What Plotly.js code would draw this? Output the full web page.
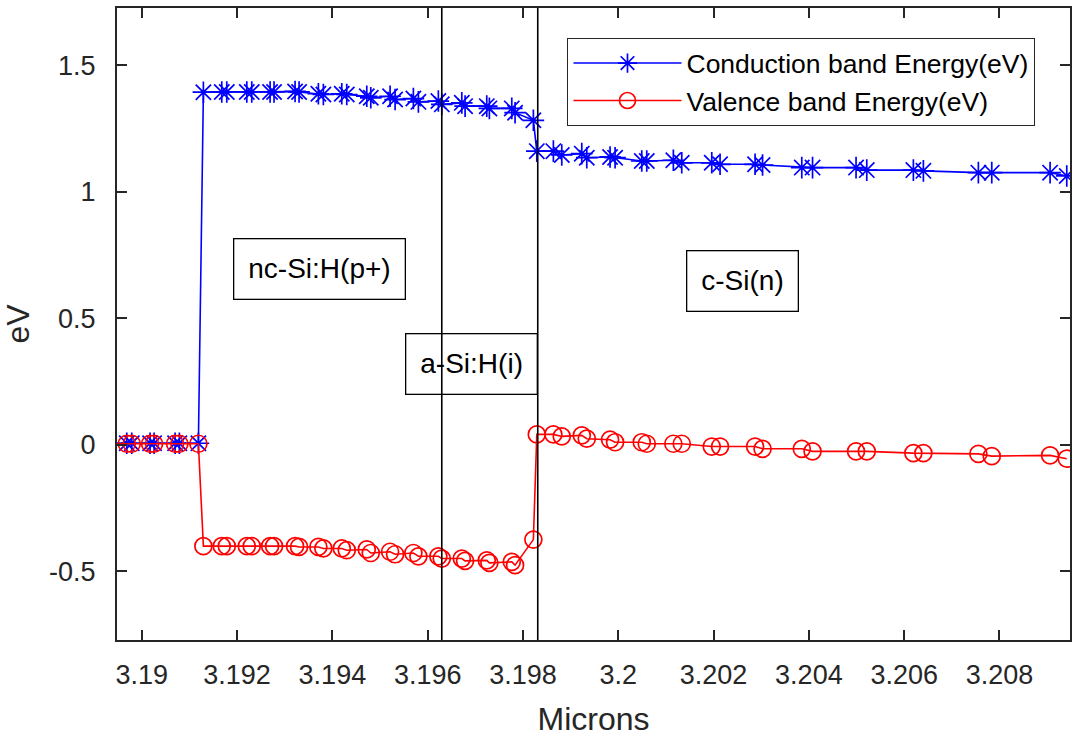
<!DOCTYPE html>
<html>
<head>
<meta charset="utf-8">
<script src="https://cdn.plot.ly/plotly-3.0.1.min.js"></script>
<style>
  html, body { margin: 0; padding: 0; background: #ffffff; }
  #plot { width: 1081px; height: 742px; }
</style>
</head>
<body>
<div id="plot"></div>
<script>
// Band diagram of an nc-Si:H(p+) / a-Si:H(i) / c-Si(n) heterojunction

// Position through the device (microns); the first node lies just left of the view
const microns = [
  3.1892,
  3.189685, 3.189790, 3.190174, 3.190258, 3.190699, 3.190789, 3.191188,
  3.191293, 3.191679, 3.191784, 3.192204, 3.192308, 3.192693, 3.192776,
  3.193217, 3.193301, 3.193706, 3.193811, 3.194197, 3.194302, 3.194722,
  3.194806, 3.195211, 3.195316, 3.195700, 3.195805, 3.196224, 3.196296,
  3.196716, 3.196785, 3.197240, 3.197295, 3.197765, 3.197834, 3.198218,
  3.198290, 3.198638, 3.198814, 3.199234, 3.199339, 3.199828, 3.199933,
  3.200493, 3.200598, 3.201156, 3.201332, 3.201962, 3.202136, 3.202871,
  3.203028, 3.203851, 3.204077, 3.204990, 3.205215, 3.206193, 3.206403,
  3.207557, 3.207838, 3.209062, 3.209412
];

// Conduction band edge (eV)
const conductionEV = [
  0.006,
  0.006, 0.006, 0.006, 0.006, 0.006, 0.006, 0.006,
  1.394, 1.395, 1.395, 1.395, 1.395, 1.395, 1.395,
  1.397, 1.395, 1.388, 1.385, 1.388, 1.385, 1.378,
  1.372, 1.378, 1.365, 1.369, 1.356, 1.359, 1.346,
  1.352, 1.339, 1.339, 1.330, 1.330, 1.313, 1.283,
  1.161, 1.161, 1.146, 1.151, 1.135, 1.138, 1.135,
  1.122, 1.122, 1.125, 1.115, 1.115, 1.109, 1.109,
  1.106, 1.096, 1.096, 1.096, 1.086, 1.086, 1.083,
  1.076, 1.076, 1.076, 1.063
];

// Valence band edge (eV)
const valenceEV = [
  0.004,
  0.004, 0.004, 0.004, 0.004, 0.004, 0.004, 0.004,
  -0.401, -0.401, -0.401, -0.401, -0.401, -0.401, -0.401,
  -0.401, -0.404, -0.404, -0.410, -0.410, -0.417, -0.414,
  -0.428, -0.423, -0.433, -0.428, -0.441, -0.441, -0.450,
  -0.450, -0.459, -0.457, -0.467, -0.463, -0.476, -0.375,
  0.041, 0.041, 0.033, 0.037, 0.024, 0.020, 0.010,
  0.010, 0.004, 0.004, 0.004, -0.007, -0.007, -0.007,
  -0.016, -0.016, -0.026, -0.026, -0.026, -0.033, -0.033,
  -0.036, -0.045, -0.042, -0.055
];

const seriesNames = ['Conduction band Energy(eV)', 'Valence band Energy(eV)'];

// Layer interfaces (microns)
const interfaces = [3.196296, 3.198310];

// Layer labels and where they sit (microns, eV)
const layerLabels = ['nc-Si:H(p+)', 'a-Si:H(i)', 'c-Si(n)'];
const layerLabelX = [3.193721, 3.196927, 3.202608];
const layerLabelY = [0.694, 0.318, 0.646];

// Axis ticks
const xTickVals = [3.19, 3.192, 3.194, 3.196, 3.198, 3.2, 3.202, 3.204, 3.206, 3.208];
const xTickText = ['3.19', '3.192', '3.194', '3.196', '3.198', '3.2', '3.202', '3.204', '3.206', '3.208'];
const yTickVals = [-0.5, 0, 0.5, 1, 1.5];
const yTickText = ['-0.5', '0', '0.5', '1', '1.5'];

const FONT = 'Liberation Sans, Arial, Helvetica, sans-serif';
const AXIS_COLOR = '#262626';

const traces = [
  {
    x: microns, y: conductionEV, name: seriesNames[0], legendgroup: 'cb',
    type: 'scatter', mode: 'lines+markers',
    line: { color: '#0000ff', width: 1.6 },
    marker: { symbol: 'asterisk-open', size: 18, color: '#0000ff', line: { color: '#0000ff', width: 1.7 } }
  },
  {
    x: microns, y: valenceEV, name: seriesNames[1], legendgroup: 'vb',
    type: 'scatter', mode: 'lines+markers',
    line: { color: '#ff0000', width: 1.6 },
    marker: { symbol: 'circle-open', size: 17, color: '#ff0000', line: { color: '#ff0000', width: 1.7 } }
  }
];

const shapes = interfaces.map(xv => ({
  type: 'line', xref: 'x', yref: 'paper',
  x0: xv, x1: xv, y0: 0, y1: 1,
  line: { color: '#000000', width: 1.6 }
}));

const annotations = layerLabels.map((t, i) => ({
  text: t, x: layerLabelX[i], y: layerLabelY[i], xref: 'x', yref: 'y',
  showarrow: false, xanchor: 'center', yanchor: 'middle',
  font: { family: FONT, size: 28, color: '#000000' },
  bordercolor: '#000000', borderwidth: 1.3, borderpad: 14
}));

const axisCommon = {
  showgrid: false, zeroline: false,
  showline: true, linecolor: AXIS_COLOR, linewidth: 2, mirror: 'ticks',
  ticks: 'inside', ticklen: 10, tickwidth: 2, tickcolor: AXIS_COLOR,
  tickfont: { family: FONT, size: 27, color: AXIS_COLOR },
  automargin: false
};

const layout = {
  width: 1081, height: 742,
  paper_bgcolor: '#ffffff', plot_bgcolor: '#ffffff',
  margin: { l: 117, r: 11, t: 8, b: 102 },
  showlegend: true,
  legend: {
    x: 0.4724, y: 0.9525, xanchor: 'left', yanchor: 'top',
    bgcolor: '#ffffff', bordercolor: '#262626', borderwidth: 1.3,
    font: { family: FONT, size: 26.5, color: '#000000' },
    itemwidth: 108, tracegroupgap: 3, traceorder: 'normal'
  },
  xaxis: Object.assign({}, axisCommon, {
    range: [3.18948, 3.20948],
    tickmode: 'array', tickvals: xTickVals, ticktext: xTickText,
    ticklabelstandoff: 10,
    title: { text: 'Microns', font: { family: FONT, size: 32, color: AXIS_COLOR }, standoff: 18 }
  }),
  yaxis: Object.assign({}, axisCommon, {
    range: [-0.772, 1.727],
    tickmode: 'array', tickvals: yTickVals, ticktext: yTickText,
    ticklabelstandoff: 14,
    title: { text: 'eV', font: { family: FONT, size: 32, color: AXIS_COLOR }, standoff: 14 }
  }),
  shapes: shapes,
  annotations: annotations
};

Plotly.newPlot('plot', traces, layout, { displayModeBar: false, staticPlot: true });
</script>
</body>
</html>
